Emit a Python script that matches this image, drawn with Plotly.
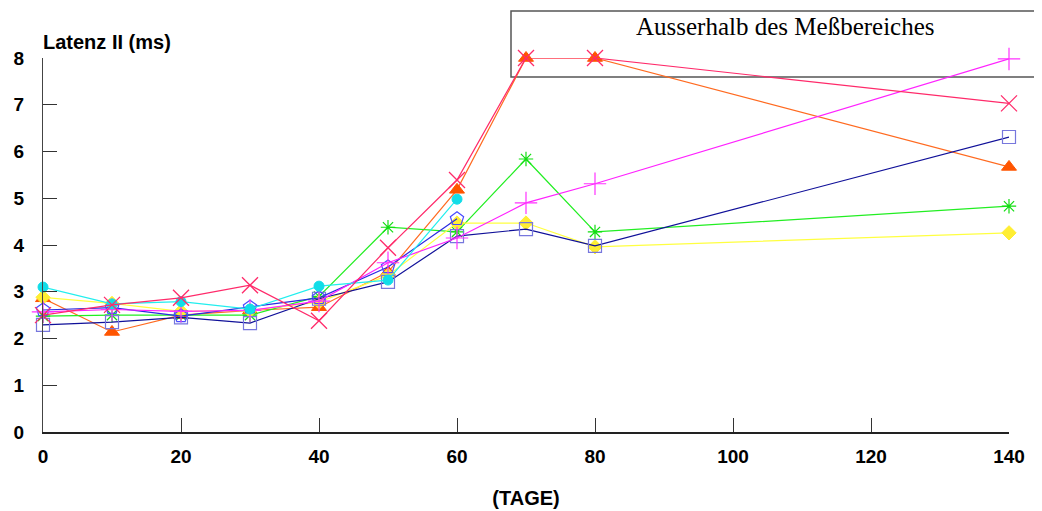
import plotly.graph_objects as go

days = [0, 10, 20, 30, 40, 50, 60, 70, 80, 140]

magenta_plus = [2.57, 2.62, 2.58, 2.6, 2.8, 3.62, 4.15, 4.9, 5.31, 7.98]
crimson_x = [2.5, 2.72, 2.87, 3.14, 2.38, 3.94, 5.39, 8.0, 8.0, 7.03]
navy_square = [2.29, 2.35, 2.45, 2.33, 2.85, 3.21, 4.19, 4.34, 3.98, 6.31]
orange_triangle = [2.86, 2.14, 2.5, 2.6, 2.67, 3.42, 5.18, 8.0, 8.0, 5.67]
green_star = [2.48, 2.5, 2.5, 2.5, 2.9, 4.38, 4.28, 5.84, 4.28, 4.83]
yellow_diamond = [2.88, 2.75, 2.58, 2.6, 2.78, 3.35, 4.47, 4.47, 3.96, 4.26]
cyan_circle = [3.1, 2.74, 2.79, 2.63, 3.12, 3.25, 4.98, None, None, None]
blue_pentagon = [2.61, 2.66, 2.48, 2.67, 2.87, 3.53, 4.56, None, None, None]

x_ticks = [0, 20, 40, 60, 80, 100, 120, 140]
y_ticks = [0, 1, 2, 3, 4, 5, 6, 7, 8]

SANS = "Liberation Sans, Arial, sans-serif"

# The page body adds an 8px offset; plot area on screen spans x 43..1009, y 58..432
def px(sx):
    return (sx - 43) / 966

def py(sy):
    return (432 - sy) / 374

fig = go.Figure()

def add(y, line_color, symbol, marker_color, size, mlw=1):
    marker = dict(symbol=symbol, size=size, color=marker_color,
                  line=dict(color=marker_color, width=mlw))
    fig.add_trace(go.Scatter(x=days, y=y, mode="lines+markers",
                             line=dict(color=line_color, width=1.2),
                             marker=marker, cliponaxis=False,
                             connectgaps=False, showlegend=False))

add(orange_triangle, "#ff6a20", "triangle-up", "#ff5500", 13)
add(green_star, "#22ee22", "asterisk-open", "#11dd11", 12, 1.2)
add(yellow_diamond, "#ffff40", "diamond", "#ffee33", 11)
add(navy_square, "#101099", "square-open", "#7777dd", 13, 1.2)
add(blue_pentagon, "#2a2ae0", "pentagon-open", "#4a4aff", 14, 1.2)
add(magenta_plus, "#ff22ff", "cross-thin-open", "#ff33ff", 16, 1.2)
add(cyan_circle, "#22eeee", "circle", "#11dde8", 10)
add(crimson_x, "#ff2a6a", "x-thin-open", "#ff2a6a", 16, 1.3)

fig.update_layout(
    width=1034, height=503,
    margin=dict(l=35, r=33, t=50, b=79, autoexpand=False),
    paper_bgcolor="white", plot_bgcolor="white",
    font=dict(family=SANS, color="black"),
    xaxis=dict(range=[0, 140], tickvals=x_ticks, ticktext=[str(v) for v in x_ticks],
               showgrid=False, zeroline=False, showline=True, linecolor="#222",
               linewidth=1.5, ticks="inside", ticklen=14, tickcolor="#333",
               tickfont=dict(size=19, family=SANS, weight="bold"),
               ticklabelstandoff=6,
               title=dict(text="<b>(TAGE)</b>", font=dict(size=20, family=SANS), standoff=25)),
    yaxis=dict(range=[0, 8], tickvals=y_ticks, showgrid=False, zeroline=False,
               showline=True, linecolor="#444", linewidth=1, ticks="inside",
               ticklen=14, tickcolor="#333",
               tickfont=dict(size=19, family=SANS, weight="bold"),
               ticklabelstandoff=14),
)

fig.add_annotation(text="<b>Latenz II (ms)</b>", xref="paper", yref="paper",
                   x=px(41), y=py(42), xanchor="left", yanchor="middle", showarrow=False,
                   font=dict(size=20, family=SANS))

fig.add_shape(type="rect", xref="paper", yref="paper",
              x0=px(511), x1=px(1046), y0=py(77), y1=py(11),
              line=dict(color="#555", width=1.5), layer="below")

fig.add_annotation(text="Ausserhalb des Meßbereiches", xref="paper", yref="paper",
                   x=px(785), y=py(26), xanchor="center", yanchor="middle",
                   showarrow=False,
                   font=dict(size=25, family="Liberation Serif", color="black"))

fig.write_html("out.html")
